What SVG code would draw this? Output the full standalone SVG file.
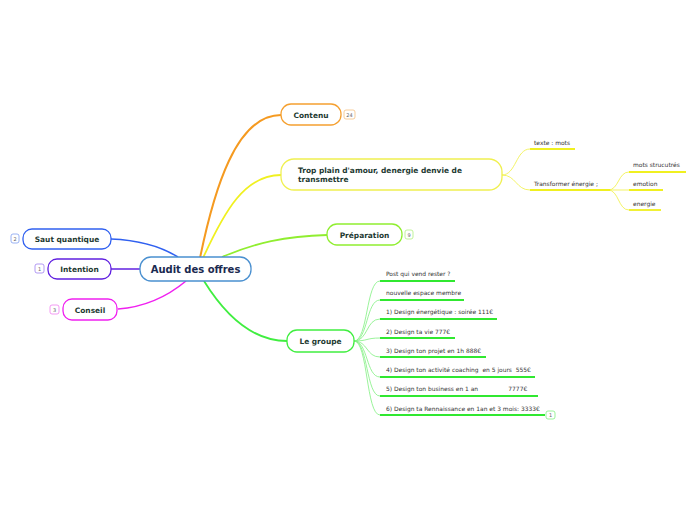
<svg xmlns="http://www.w3.org/2000/svg" width="696" height="520" viewBox="0 0 696 520">
<style>
.node{fill:#fff;stroke-width:1.3}
.lbl{font-family:"DejaVu Sans",Verdana,sans-serif;font-weight:bold;font-size:7.45px;fill:#1e3a32}
.sm{font-family:"DejaVu Sans",Verdana,sans-serif;font-size:5.95px;fill:#333}
.bd{fill:#fff;stroke-width:0.8}
.bt{font-family:"DejaVu Sans",Verdana,sans-serif;font-size:5px;fill:#666;text-anchor:middle}
.c{fill:none}
</style>
<rect width="696" height="520" fill="#fff"/>
<g id="connectors">
  <path class="c" d="M200,258 C214,190 236,115 281,115" stroke="#f59a20" stroke-width="2"/>
  <path class="c" d="M203,258 C225,210 245,175 281,175" stroke="#f0f020" stroke-width="1.8"/>
  <path class="c" d="M222,257 C255,243 285,236 327,235" stroke="#90ee30" stroke-width="1.8"/>
  <path class="c" d="M204,281 C222,310 250,341 287,341" stroke="#40ee40" stroke-width="1.8"/>
  <path class="c" d="M111,239 C140,240 160,246 178,257" stroke="#3060f0" stroke-width="1.6"/>
  <path class="c" d="M111,269 L140,269" stroke="#6020e0" stroke-width="1.5"/>
  <path class="c" d="M118,309 C145,307 168,296 186,281" stroke="#f020f0" stroke-width="1.6"/>
  <g stroke="#f0f040" stroke-width="0.8" fill="none">
    <path d="M502,175 C516,175 516,149 530,149"/>
    <path d="M502,175 C516,175 516,190 530,190"/>
    <path d="M608,190 C619,190 618,172 629,172"/>
    <path d="M608,190 L629,190"/>
    <path d="M608,190 C619,190 618,210 629,210"/>
  </g>
  <g stroke="#f0f020" stroke-width="1.8">
    <path d="M530,149 H575"/>
    <path d="M530,190 H610"/>
    <path d="M629,172 H686"/>
    <path d="M629,190 H663"/>
    <path d="M629,210 H661"/>
  </g>
  <g stroke="#80f080" stroke-width="0.8" fill="none">
    <path d="M354,341 C368,341 366,281 380,281"/>
    <path d="M354,341 C368,341 366,300 380,300"/>
    <path d="M354,341 C368,341 366,319 380,319"/>
    <path d="M354,341 C368,341 366,338 380,338"/>
    <path d="M354,341 C368,341 366,357 380,357"/>
    <path d="M354,341 C368,341 366,377 380,377"/>
    <path d="M354,341 C368,341 366,396 380,396"/>
    <path d="M354,341 C368,341 366,415 380,415"/>
  </g>
  <g stroke="#30e830" stroke-width="1.8">
    <path d="M380,281 H455"/>
    <path d="M380,300 H464"/>
    <path d="M380,319 H497"/>
    <path d="M380,338 H455"/>
    <path d="M380,357 H486"/>
    <path d="M380,377 H535"/>
    <path d="M380,396 H538"/>
    <path d="M380,415 H545"/>
  </g>
</g>
<g id="center">
  <rect class="node" x="140" y="257" width="111" height="24" rx="11" stroke="#4a90d0"/>
  <text x="195.5" y="272.5" text-anchor="middle" font-family="DejaVu Sans,Verdana,sans-serif" font-weight="bold" font-size="10px" fill="#1a2a50">Audit des offres</text>
</g>
<g id="contenu">
  <rect class="node" x="281" y="104" width="60" height="21" rx="10" stroke="#f5a030"/>
  <text class="lbl" x="311" y="117.5" text-anchor="middle">Contenu</text>
  <rect class="bd" x="344" y="110" width="11" height="9" rx="2" stroke="#f5c080"/>
  <text class="bt" x="349.5" y="116.5">24</text>
</g>
<g id="trop">
  <rect class="node" x="281" y="159" width="221" height="31" rx="13" stroke="#f0f050"/>
  <text class="lbl" x="298" y="173">Trop plain d'amour, denergie denvie de</text>
  <text class="lbl" x="298" y="182">transmettre</text>
</g>
<g id="texte"><text class="sm" x="534" y="145">texte : mots</text></g>
<g id="transformer"><text class="sm" x="534" y="186">Transformer énergie ;</text></g>
<g id="mots"><text class="sm" x="633" y="167">mots strucutrés</text></g>
<g id="emotion"><text class="sm" x="633" y="186">emotion</text></g>
<g id="energie"><text class="sm" x="633" y="206">energie</text></g>
<g id="preparation">
  <rect class="node" x="327" y="224" width="75" height="21" rx="10" stroke="#90ee30"/>
  <text class="lbl" x="364.5" y="237.5" text-anchor="middle">Préparation</text>
  <rect class="bd" x="405" y="230" width="8" height="9" rx="2" stroke="#b0f080"/>
  <text class="bt" x="409" y="236.5">9</text>
</g>
<g id="groupe">
  <rect class="node" x="287" y="330" width="67" height="22" rx="10" stroke="#40ee40"/>
  <text class="lbl" x="320.5" y="343.5" text-anchor="middle">Le groupe</text>
</g>
<g id="g1"><text class="sm" x="386" y="276">Post qui vend rester ?</text></g>
<g id="g2"><text class="sm" x="386" y="295">nouvelle espace membre</text></g>
<g id="g3"><text class="sm" x="386" y="314">1) Design énergétique : soirée 111€</text></g>
<g id="g4"><text class="sm" x="386" y="334">2) Design ta vie 777€</text></g>
<g id="g5"><text class="sm" x="386" y="353">3) Design ton projet en 1h 888€</text></g>
<g id="g6"><text class="sm" x="386" y="372" xml:space="preserve">4) Design ton activité coaching  en 5 jours  555€</text></g>
<g id="g7"><text class="sm" x="386" y="391" xml:space="preserve">5) Design ton business en 1 an                7777€</text></g>
<g id="g8"><text class="sm" x="386" y="411">6) Design ta Rennaissance en 1an et 3 mois: 3333€</text>
  <rect class="bd" x="546" y="411" width="9" height="8" rx="2" stroke="#80f080"/>
  <text class="bt" x="550.5" y="417">1</text>
</g>
<g id="saut">
  <rect class="node" x="23" y="229" width="88" height="20" rx="9" stroke="#3060f0"/>
  <text class="lbl" x="67" y="242" text-anchor="middle">Saut quantique</text>
  <rect class="bd" x="11" y="234" width="8" height="9" rx="2" stroke="#80a0f0"/>
  <text class="bt" x="15" y="240.5">2</text>
</g>
<g id="intention">
  <rect class="node" x="48" y="259" width="63" height="20" rx="9" stroke="#6020e0"/>
  <text class="lbl" x="79.5" y="272" text-anchor="middle">Intention</text>
  <rect class="bd" x="35" y="264" width="9" height="9" rx="2" stroke="#a080f0"/>
  <text class="bt" x="39.5" y="270.5">1</text>
</g>
<g id="conseil">
  <rect class="node" x="63" y="299" width="54" height="21" rx="9" stroke="#f020f0"/>
  <text class="lbl" x="90" y="312.5" text-anchor="middle">Conseil</text>
  <rect class="bd" x="50" y="305" width="9" height="9" rx="2" stroke="#f080f0"/>
  <text class="bt" x="54.5" y="311.5">3</text>
</g>
</svg>
